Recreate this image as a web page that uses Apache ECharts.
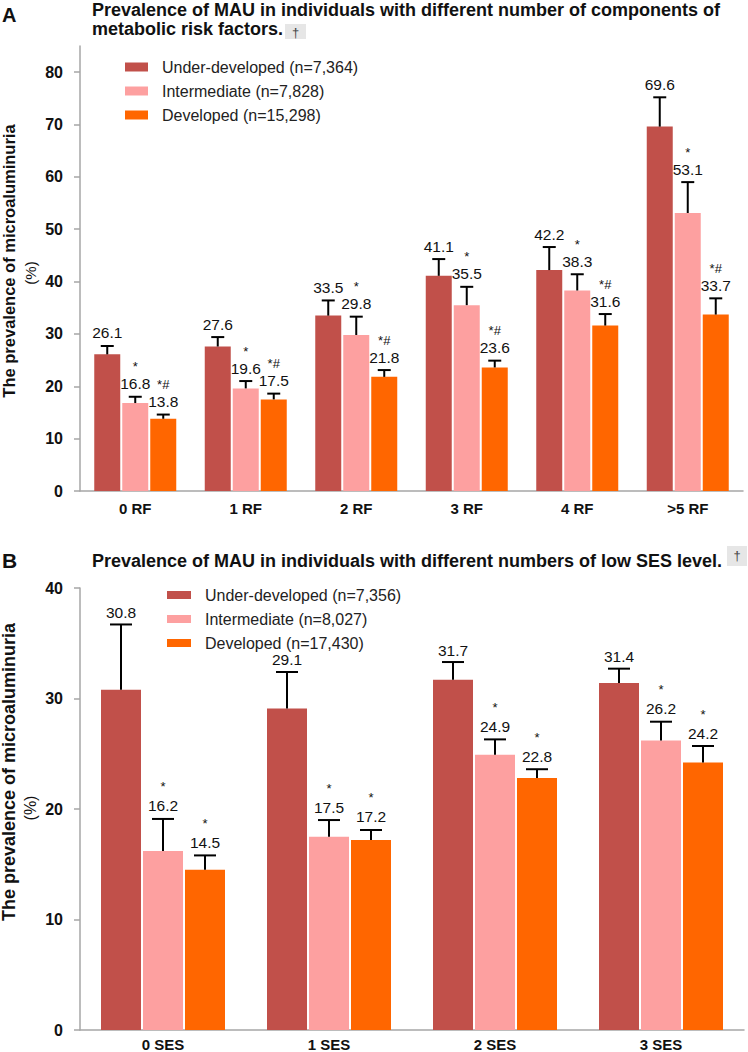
<!DOCTYPE html>
<html>
<head>
<meta charset="utf-8">
<script src="https://cdn.jsdelivr.net/npm/echarts@6/dist/echarts.min.js"></script>
<style>
html,body{margin:0;padding:0;background:#fff;}
#chart{width:748px;height:1052px;}
</style>
</head>
<body>
<div id="chart"></div>
<script>
// ---------- Data (panel A) ----------
const catsA = ['0 RF', '1 RF', '2 RF', '3 RF', '4 RF', '>5 RF'];
const underA = [26.1, 27.6, 33.5, 41.1, 42.2, 69.6];
const interA = [16.8, 19.6, 29.8, 35.5, 38.3, 53.1];
const devA = [13.8, 17.5, 21.8, 23.6, 31.6, 33.7];
const underErrA = [27.7, 29.4, 36.4, 44.3, 46.6, 75.2];
const interErrA = [18.0, 21.0, 33.3, 39.0, 41.4, 59.0];
const devErrA = [14.6, 18.6, 23.1, 24.9, 33.8, 36.8];
const underSigA = ['', '', '', '', '', ''];
const interSigA = ['*', '*', '*', '*', '*', '*'];
const devSigA = ['*#', '*#', '*#', '*#', '*#', '*#'];
const namesA = ['Under-developed (n=7,364)', 'Intermediate (n=7,828)', 'Developed (n=15,298)'];
const ticksA = [0, 10, 20, 30, 40, 50, 60, 70, 80];

// ---------- Data (panel B) ----------
const catsB = ['0 SES', '1 SES', '2 SES', '3 SES'];
const underB = [30.8, 29.1, 31.7, 31.4];
const interB = [16.2, 17.5, 24.9, 26.2];
const devB = [14.5, 17.2, 22.8, 24.2];
const underErrB = [36.7, 32.4, 33.3, 32.7];
const interErrB = [19.1, 19.0, 26.3, 27.9];
const devErrB = [15.8, 18.1, 23.6, 25.7];
const underSigB = ['', '', '', ''];
const interSigB = ['*', '*', '*', '*'];
const devSigB = ['*', '*', '*', '*'];
const namesB = ['Under-developed (n=7,356)', 'Intermediate (n=8,027)', 'Developed (n=17,430)'];
const ticksB = [0, 10, 20, 30, 40];

const titleA1 = 'Prevalence of MAU in individuals with different number of components of';
const titleA2 = 'metabolic risk factors.';
const titleB = 'Prevalence of MAU in individuals with different numbers of low SES level.';
const yName = 'The prevalence of microaluminuria';
const yUnit = '(%)';

const colors = ['#C1504A', '#FDA0A0', '#FF6600'];
const FONT = '"Liberation Sans", Arial, sans-serif';

function errData(vals, errs, sigs) {
  return vals.map((v, i) => [i, v, errs[i], sigs[i]]);
}

function makeErr(axisIdx, data, offset, capW, lblGap, sigGap, name) {
  return {
    type: 'custom',
    name: name,
    xAxisIndex: axisIdx, yAxisIndex: axisIdx,
    z: 5,
    silent: true,
    data: data,
    encode: { x: 0, y: [1, 2] },
    renderItem: function (params, api) {
      const ci = api.value(0);
      const v = api.value(1);
      const e = api.value(2);
      const sig = data[params.dataIndex][3];
      const p0 = api.coord([ci, v]);
      const p1 = api.coord([ci, e]);
      const cx = p0[0] + offset;
      const ly = p1[1] - lblGap;
      const children = [
        { type: 'line', shape: { x1: cx, y1: p0[1], x2: cx, y2: p1[1] }, style: { stroke: '#000', lineWidth: 2 } },
        { type: 'line', shape: { x1: cx - capW / 2, y1: p1[1], x2: cx + capW / 2, y2: p1[1] }, style: { stroke: '#000', lineWidth: 2 } },
        { type: 'text', style: { text: v.toFixed(1), x: cx, y: ly, align: 'center', verticalAlign: 'middle', fontSize: 15.5, fontFamily: FONT, fill: '#111' } }
      ];
      if (sig) {
        children.push({ type: 'text', style: { text: sig, x: cx, y: ly - sigGap, align: 'center', verticalAlign: 'middle', fontSize: 13, fontFamily: FONT, fill: '#111' } });
      }
      return { type: 'group', children: children };
    }
  };
}

function bar(axisIdx, name, data, color, w, gap) {
  return {
    type: 'bar', name: name, xAxisIndex: axisIdx, yAxisIndex: axisIdx,
    data: data, barWidth: w, barGap: gap,
    itemStyle: { color: color },
    silent: true
  };
}

const wA = 26, gA = 2, wB = 40, gB = 2;

const chart = echarts.init(document.getElementById('chart'), null, { renderer: 'svg' });

const axisLineStyle = { color: '#A6A6A6', width: 1.5 };

chart.setOption({
  animation: false,
  color: colors,
  grid: [
    { left: 80, right: 5, top: 46, bottom: 561, containLabel: false },
    { left: 80, right: 4, top: 588, bottom: 21, containLabel: false }
  ],
  legend: [
    {
      data: namesA, orient: 'vertical', left: 125, top: 59, itemWidth: 23, itemHeight: 9, itemGap: 8,
      padding: 0, icon: 'rect',
      textStyle: { fontSize: 16, fontFamily: FONT, color: '#222', padding: [0, 0, 0, 9] }
    },
    {
      data: namesB, orient: 'vertical', left: 167, top: 587, itemWidth: 24, itemHeight: 8, itemGap: 8,
      padding: 0, icon: 'rect',
      textStyle: { fontSize: 16, fontFamily: FONT, color: '#222', padding: [0, 0, 0, 9] }
    }
  ],
  xAxis: [
    {
      type: 'category', gridIndex: 0, data: catsA,
      axisLine: { lineStyle: axisLineStyle },
      axisTick: { alignWithLabel: true, length: 5, lineStyle: axisLineStyle },
      axisLabel: { fontSize: 15, fontWeight: 'bold', color: '#111', fontFamily: FONT, margin: 10 }
    },
    {
      type: 'category', gridIndex: 1, data: catsB,
      axisLine: { lineStyle: axisLineStyle },
      axisTick: { alignWithLabel: true, length: 5, lineStyle: axisLineStyle },
      axisLabel: { fontSize: 15, fontWeight: 'bold', color: '#111', fontFamily: FONT, margin: 7 }
    }
  ],
  yAxis: [
    {
      type: 'value', gridIndex: 0, min: 0, max: 85, interval: 10,
      splitLine: { show: false },
      axisLine: { show: true, lineStyle: axisLineStyle },
      axisTick: { show: true, length: 6, lineStyle: axisLineStyle, customValues: ticksA },
      axisLabel: { fontSize: 16, fontWeight: 'bold', color: '#111', fontFamily: FONT, margin: 17, customValues: ticksA }
    },
    {
      type: 'value', gridIndex: 1, min: 0, max: 40, interval: 10,
      splitLine: { show: false },
      axisLine: { show: true, lineStyle: axisLineStyle },
      axisTick: { show: true, length: 6, lineStyle: axisLineStyle, customValues: ticksB },
      axisLabel: { fontSize: 16, fontWeight: 'bold', color: '#111', fontFamily: FONT, margin: 17, customValues: ticksB }
    }
  ],
  series: [
    bar(0, namesA[0], underA, colors[0], wA, (gA / wA * 100) + '%'),
    bar(0, namesA[1], interA, colors[1], wA, (gA / wA * 100) + '%'),
    bar(0, namesA[2], devA, colors[2], wA, (gA / wA * 100) + '%'),
    makeErr(0, errData(underA, underErrA, underSigA), -(wA + gA), 13, 13, 17, 'errA0'),
    makeErr(0, errData(interA, interErrA, interSigA), 0, 13, 13, 17, 'errA1'),
    makeErr(0, errData(devA, devErrA, devSigA), (wA + gA), 13, 13, 17, 'errA2'),
    bar(1, namesB[0], underB, colors[0], wB, (gB / wB * 100) + '%'),
    bar(1, namesB[1], interB, colors[1], wB, (gB / wB * 100) + '%'),
    bar(1, namesB[2], devB, colors[2], wB, (gB / wB * 100) + '%'),
    makeErr(1, errData(underB, underErrB, underSigB), -(wB + gB), 22, 12, 19, 'errB0'),
    makeErr(1, errData(interB, interErrB, interSigB), 0, 22, 13, 19, 'errB1'),
    makeErr(1, errData(devB, devErrB, devSigB), (wB + gB), 22, 13, 19, 'errB2')
  ],
  graphic: [
    { type: 'text', x: 2, y: 15, style: { text: 'A', font: 'bold 20px ' + FONT, fill: '#111', verticalAlign: 'middle' } },
    { type: 'text', x: 92, y: 10, style: { text: titleA1, font: 'bold 18px ' + FONT, fill: '#111', verticalAlign: 'middle' } },
    { type: 'text', x: 92, y: 29, style: { text: titleA2, font: 'bold 18px ' + FONT, fill: '#111', verticalAlign: 'middle' } },
    { type: 'rect', shape: { x: 285, y: 24, width: 21, height: 15 }, style: { fill: '#E6E6E6' } },
    { type: 'text', x: 295.5, y: 32, style: { text: '†', font: '13px ' + FONT, fill: '#444', align: 'center', verticalAlign: 'middle' } },
    { type: 'text', x: 2, y: 560, style: { text: 'B', font: 'bold 21px ' + FONT, fill: '#111', verticalAlign: 'middle' } },
    { type: 'text', x: 92, y: 561, style: { text: titleB, font: 'bold 18px ' + FONT, fill: '#111', verticalAlign: 'middle' } },
    { type: 'rect', shape: { x: 727, y: 546, width: 20, height: 20 }, style: { fill: '#E6E6E6' } },
    { type: 'text', x: 737, y: 555, style: { text: '†', font: '13px ' + FONT, fill: '#444', align: 'center', verticalAlign: 'middle' } },
    { type: 'text', x: 9, y: 261, rotation: Math.PI / 2, style: { text: yName, font: 'bold 16.5px ' + FONT, fill: '#111', align: 'center', verticalAlign: 'middle' } },
    { type: 'text', x: 30, y: 273, rotation: Math.PI / 2, style: { text: yUnit, font: '15px ' + FONT, fill: '#111', align: 'center', verticalAlign: 'middle' } },
    { type: 'text', x: 9, y: 772, rotation: Math.PI / 2, style: { text: yName, font: 'bold 18px ' + FONT, fill: '#111', align: 'center', verticalAlign: 'middle' } },
    { type: 'text', x: 30, y: 808, rotation: Math.PI / 2, style: { text: yUnit, font: '16px ' + FONT, fill: '#111', align: 'center', verticalAlign: 'middle' } }
  ]
});
</script>
</body>
</html>
